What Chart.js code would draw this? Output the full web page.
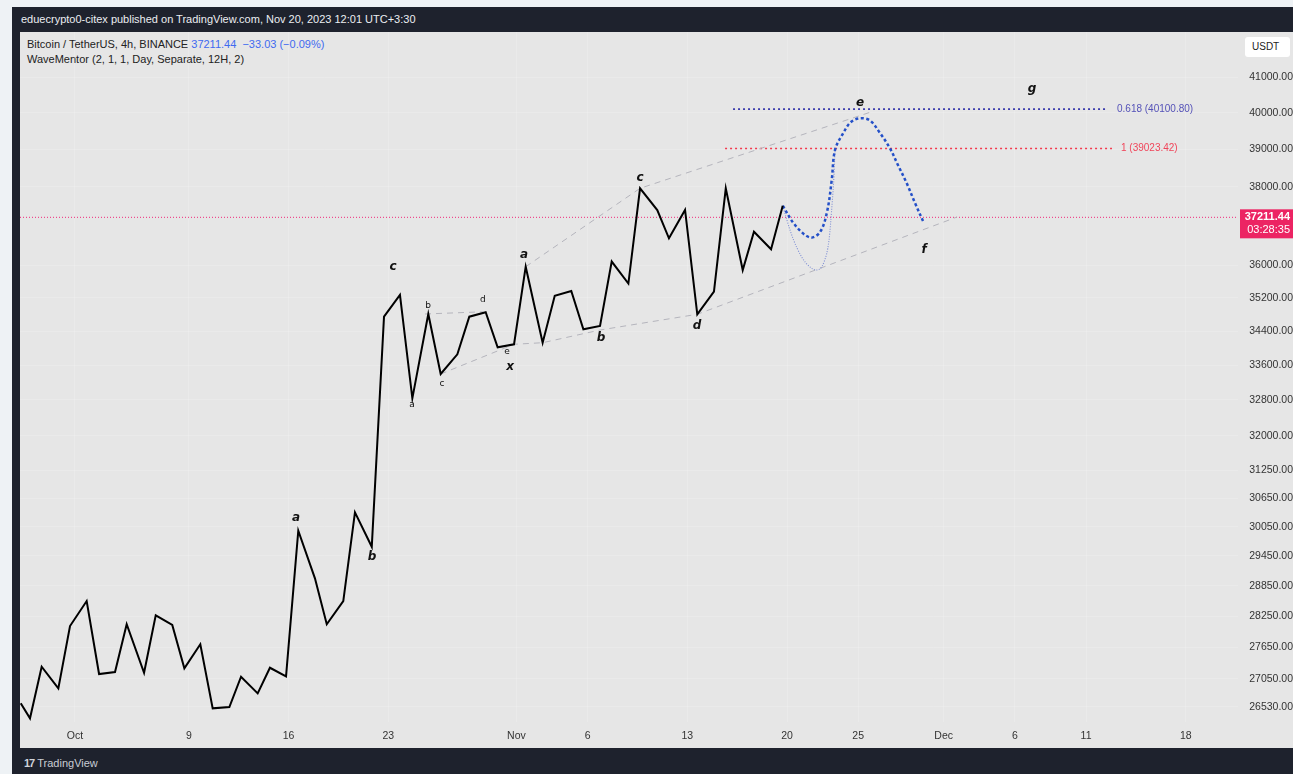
<!DOCTYPE html>
<html><head><meta charset="utf-8">
<script src="https://cdn.jsdelivr.net/npm/chart.js@4/dist/chart.umd.min.js"></script>
<style>
html,body{margin:0;padding:0;width:1293px;height:774px;overflow:hidden;background:#eef2f5;font-family:"Liberation Sans",Arial,sans-serif;}
#frame{position:absolute;left:12px;top:7px;width:1281px;height:767px;background:#1e222d;}
#pane{position:absolute;left:20px;top:32px;width:1273px;height:716px;background:#e6e6e6;}
#hdr{position:absolute;left:21px;top:13px;color:#eceef2;font-size:11px;white-space:nowrap;}
#t1{position:absolute;left:27px;top:38px;color:#222;font-size:11px;white-space:nowrap;}
#t1 span{color:#3f6af0;}
#t2{position:absolute;left:27px;top:53px;color:#222;font-size:11px;white-space:nowrap;}
#usdt{position:absolute;left:1245px;top:37px;width:45px;height:20px;background:#fff;border-radius:3px;font-size:10px;color:#222;line-height:20px;text-indent:7px;}
#foot{position:absolute;left:24px;top:757px;color:#c9ccd4;font-size:11px;white-space:nowrap;}
#foot b{font-size:11px;color:#d0d3da;letter-spacing:-1px;margin-right:3px;}
canvas{position:absolute;left:0;top:0;}
</style></head>
<body>
<div id="frame"></div>
<div id="pane"></div>
<div id="hdr">eduecrypto0-citex published on TradingView.com, Nov 20, 2023 12:01 UTC+3:30</div>
<div id="t1">Bitcoin / TetherUS, 4h, BINANCE&nbsp;<span>37211.44&nbsp; −33.03 (−0.09%)</span></div>
<div id="t2">WaveMentor (2, 1, 1, Day, Separate, 12H, 2)</div>
<div id="usdt">USDT</div>
<div id="foot"><b>17</b>TradingView</div>
<canvas id="c" width="1293" height="774"></canvas>
<script>
// x values are days since Oct 1, 2023
const xTickDays = [0, 8, 15, 22, 31, 36, 43, 50, 55, 61, 66, 71, 78];
const xTickLabels = ["Oct", "9", "16", "23", "Nov", "6", "13", "20", "25", "Dec", "6", "11", "18"];
const yTickValues = [26530, 27050, 27650, 28250, 28850, 29450, 30050, 30650, 31250, 32000, 32800, 33600, 34400, 35200, 36000, 38000, 39000, 40000, 41000];

const priceDays = [-3.81, -3.16, -2.34, -1.17, -0.35, 0.82, 1.69, 2.81, 3.63, 4.85, 5.67, 6.83, 7.68, 8.80, 9.67, 10.84, 11.66, 12.83, 13.69, 14.82, 15.68, 16.85, 17.68, 18.84, 19.66, 20.84, 21.70, 22.82, 23.69, 24.81, 25.68, 26.85, 27.69, 28.84, 29.68, 30.83, 31.65, 32.84, 33.69, 34.85, 35.70, 36.87, 37.69, 38.86, 39.68, 40.89, 41.71, 42.84, 43.70, 44.87, 45.70, 46.89, 47.68, 48.88, 49.70];
const priceValues = [26597, 26323, 27278, 26874, 28056, 28545, 27141, 27178, 28090, 27165, 28265, 28076, 27248, 27704, 26505, 26529, 27090, 26781, 27259, 27098, 29966, 28996, 28090, 28545, 30349, 29636, 34742, 35267, 32837, 34807, 33393, 33851, 34742, 34848, 34015, 34086, 35963, 34123, 35249, 35364, 34440, 34519, 36092, 35548, 37965, 37400, 36676, 37400, 34800, 35347, 37965, 35881, 36843, 36398, 37511];

const projDays = [49.70, 50.56, 51.62, 52.32, 52.81, 53.14, 53.37, 53.95, 54.49, 55.13, 55.83, 56.53, 57.23, 57.79, 58.41, 58.99, 59.62];
const projValues = [37511, 37014, 36696, 36836, 37349, 38183, 38983, 39444, 39745, 39846, 39786, 39444, 39029, 38581, 38096, 37581, 37058];

const altDays = [49.70, 50.21, 50.70, 51.33, 52.08, 52.60, 52.95, 53.16, 53.30, 53.37];
const altValues = [37511, 36886, 36431, 36055, 35881, 36080, 36633, 37529, 38315, 38983];

const lowerTrendDays = [25.68, 30.83, 32.84, 36.87, 43.70, 61.94];
const lowerTrendValues = [33393, 34086, 34123, 34424, 34800, 37219];
const bdTrendDays = [24.58, 28.66];
const bdTrendValues = [34807, 34860];
const upperTrendDays = [31.65, 39.68, 55.83];
const upperTrendValues = [35963, 37965, 40012];

const fib618Days = [46.21, 72.54];
const fib618Value = 40100.80;
const fib1Days = [45.65, 72.82];
const fib1Value = 39023.42;
const lastPrice = 37211.44;
const lastCountdown = "03:28:35";

const waveText   = ["a", "b", "c", "a", "b", "c", "d", "e", "x", "a", "b", "c", "d", "e", "f", "g"];
const waveDays   = [15.52, 20.86, 22.33, 23.67, 24.79, 25.77, 28.65, 30.34, 30.55, 31.53, 36.94, 39.68, 43.68, 55.13, 59.62, 67.21];
const waveValues = [30230, 29427, 35956, 32686, 34999, 33163, 35145, 33905, 33555, 36255, 34234, 38236, 34519, 40270, 36381, 40661];
const waveSmall  = [false, false, false, true, true, true, true, true, false, false, false, false, false, false, false, false];

const X_MIN = -3.862, X_MAX = 81.67, Y_MIN = 26256, Y_MAX = 42295;

const pts = (xs, ys) => xs.map((x, i) => ({x, y: Array.isArray(ys) ? ys[i] : ys}));

const overlay = {
  id: 'overlay',
  afterDatasetsDraw(chart) {
    const {ctx, scales: {x, y}} = chart;
    ctx.save();
    ctx.fillStyle = '#111';
    ctx.textAlign = 'center';
    ctx.textBaseline = 'middle';
    waveText.forEach((t, i) => {
      ctx.font = waveSmall[i] ? '9px "DejaVu Sans"' : 'italic bold 12px "DejaVu Sans"';
      ctx.fillText(t, x.getPixelForValue(waveDays[i]), y.getPixelForValue(waveValues[i]));
    });
    ctx.textAlign = 'left';
    ctx.font = '10px "Liberation Sans"';
    ctx.fillStyle = '#5552b8';
    ctx.fillText('0.618 (40100.80)', x.getPixelForValue(fib618Days[1]) + 9, y.getPixelForValue(fib618Value));
    ctx.fillStyle = '#f0455a';
    ctx.fillText('1 (39023.42)', x.getPixelForValue(fib1Days[1]) + 9, y.getPixelForValue(fib1Value));
    ctx.restore();
  },
  afterDraw(chart) {
    const {ctx, scales: {y}} = chart;
    const py = y.getPixelForValue(lastPrice);
    ctx.save();
    ctx.fillStyle = '#ec2463';
    ctx.fillRect(1240, py - 8, 53, 29);
    ctx.fillStyle = '#fff';
    ctx.textAlign = 'right';
    ctx.textBaseline = 'middle';
    ctx.font = 'bold 11px "Liberation Sans"';
    ctx.fillText(lastPrice.toFixed(2), 1290, py);
    ctx.font = '11px "Liberation Sans"';
    ctx.fillText(lastCountdown, 1290, py + 13);
    ctx.restore();
  }
};

const grid = 'rgba(255,255,255,0.16)';
new Chart(document.getElementById('c'), {
  type: 'line',
  data: {
    datasets: [
      {data: pts(priceDays, priceValues), borderColor: '#000', borderWidth: 2, tension: 0},
      {data: pts(projDays, projValues), borderColor: '#2450c8', borderWidth: 2.5, borderDash: [3, 2.5], tension: 0.35},
      {data: pts(altDays, altValues), borderColor: '#7f8fd4', borderWidth: 1.1, borderDash: [1, 1.5], cubicInterpolationMode: 'monotone'},
      {data: pts(lowerTrendDays, lowerTrendValues), borderColor: '#b4b4bc', borderWidth: 1, borderDash: [6, 5], tension: 0},
      {data: pts(bdTrendDays, bdTrendValues), borderColor: '#b4b4bc', borderWidth: 1, borderDash: [6, 5], tension: 0},
      {data: pts(upperTrendDays, upperTrendValues), borderColor: '#b4b4bc', borderWidth: 1, borderDash: [6, 5], tension: 0},
      {data: pts(fib618Days, fib618Value), borderColor: '#3b3bac', borderWidth: 1.6, borderDash: [2, 3], tension: 0},
      {data: pts(fib1Days, fib1Value), borderColor: '#f23b4f', borderWidth: 1.6, borderDash: [2, 3], tension: 0},
      {data: pts([X_MIN, X_MAX], lastPrice), borderColor: '#f0287a', borderWidth: 1, borderDash: [1, 2], tension: 0}
    ]
  },
  options: {
    responsive: false,
    animation: false,
    events: [],
    elements: {point: {radius: 0}},
    layout: {padding: {left: 20, top: 32, right: 0, bottom: 26}},
    plugins: {legend: {display: false}, tooltip: {enabled: false}},
    scales: {
      x: {
        type: 'linear', min: X_MIN, max: X_MAX, position: 'bottom',
        afterFit(s) { s.height = 26; },
        afterBuildTicks(s) { s.ticks = xTickDays.map(v => ({value: v})); },
        grid: {color: grid, drawTicks: false},
        border: {display: false},
        ticks: {
          autoSkip: false, maxRotation: 0, padding: 8, color: '#333',
          font: {family: '"Liberation Sans"', size: 10.5},
          callback(v) { const i = xTickDays.indexOf(v); return i >= 0 ? xTickLabels[i] : ''; }
        }
      },
      y: {
        type: 'logarithmic', min: Y_MIN, max: Y_MAX, position: 'right',
        afterFit(s) { s.width = 55; },
        afterBuildTicks(s) { s.ticks = yTickValues.map(v => ({value: v})); },
        grid: {color: grid, drawTicks: false},
        border: {display: false},
        ticks: {
          autoSkip: false, crossAlign: 'far', padding: 5, color: '#333',
          font: {family: '"Liberation Sans"', size: 10.5},
          callback(v) { return Number(v).toFixed(2); }
        }
      }
    }
  },
  plugins: [overlay]
});
</script>
</body></html>
